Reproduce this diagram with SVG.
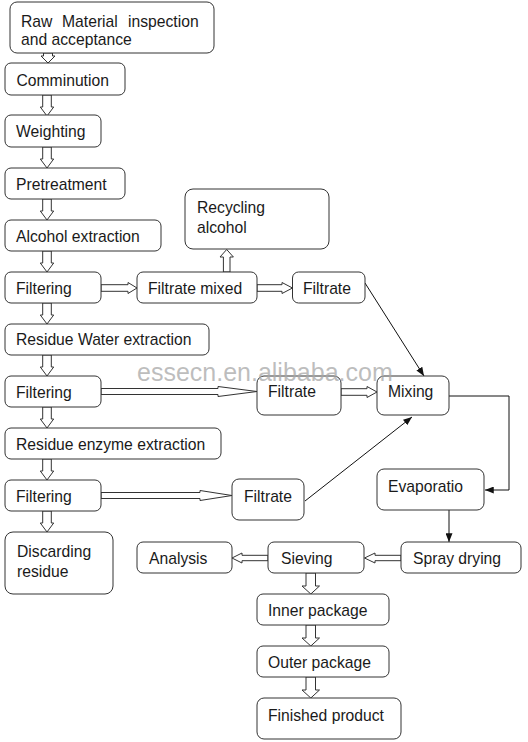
<svg xmlns="http://www.w3.org/2000/svg" width="528" height="742" viewBox="0 0 528 742">
<defs>
<style>
.box{fill:#fff;stroke:#333;stroke-width:1}
.t{font-family:"Liberation Sans",Arial,sans-serif;font-size:15.7px;fill:#1a1a1a}
.ha{fill:#fff;stroke:#333;stroke-width:1;stroke-linejoin:miter}
.ln{fill:none;stroke:#111;stroke-width:1}
.wm{font-family:"Liberation Sans",Arial,sans-serif;font-size:25px;fill:#a8a8a8;fill-opacity:0.75}
</style>
<marker id="ar" viewBox="0 0 10 8" refX="10" refY="4" markerWidth="9" markerHeight="7" markerUnits="userSpaceOnUse" orient="auto">
<path d="M0,0 L10,4 L0,8 Z" fill="#111"/>
</marker>
</defs>
<rect width="528" height="742" fill="#fff"/>

<g id="connectors">
<!-- main column hollow down arrows -->
<polygon class="ha" points="43.5,53 52.5,53 52.5,56 55,56 48,63 41,56 43.5,56"/>
<polygon class="ha" points="42.7,95 51.3,95 51.3,107 53.7,107 47,116 40.3,107 42.7,107"/>
<polygon class="ha" points="42.7,147 51.3,147 51.3,159 53.7,159 47,168 40.3,159 42.7,159"/>
<polygon class="ha" points="42.7,199 51.3,199 51.3,211 53.7,211 47,220 40.3,211 42.7,211"/>
<polygon class="ha" points="42.7,251 51.3,251 51.3,263 53.7,263 47,272 40.3,263 42.7,263"/>
<polygon class="ha" points="42.7,303 51.3,303 51.3,315 53.7,315 47,324 40.3,315 42.7,315"/>
<polygon class="ha" points="42.7,355 51.3,355 51.3,367 53.7,367 47,376 40.3,367 42.7,367"/>
<polygon class="ha" points="42.7,407 51.3,407 51.3,419 53.7,419 47,428 40.3,419 42.7,419"/>
<polygon class="ha" points="42.7,459 51.3,459 51.3,471 53.7,471 47,480 40.3,471 42.7,471"/>
<polygon class="ha" points="42.7,511 51.3,511 51.3,523 53.7,523 47,532 40.3,523 42.7,523"/>
<!-- horizontal hollow arrows -->
<polygon class="ha" points="101,284.7 128,284.7 128,282.5 137,288 128,293.5 128,291.3 101,291.3"/>
<polygon class="ha" points="257,284.7 282,284.7 282,282.5 292.5,288 282,293.5 282,291.3 257,291.3"/>
<polygon class="ha" points="101,388.5 218,388.5 218,386.5 257,391.5 218,396.5 218,394.5 101,394.5"/>
<polygon class="ha" points="341,388.7 367,388.7 367,386.5 377,392 367,397.5 367,395.3 341,395.3"/>
<polygon class="ha" points="101,492.5 200,492.5 200,490.5 232,495.5 200,500.5 200,498.5 101,498.5"/>
<!-- up arrow to recycling -->
<polygon class="ha" points="223.4,272 230,272 230,257 233.4,257 226.7,249.5 220,257 223.4,257"/>
<!-- left arrows -->
<polygon class="ha" points="401,555.3 375,555.3 375,553 364.5,558 375,563 375,560.7 401,560.7"/>
<polygon class="ha" points="268,555.3 242,555.3 242,553 232,558 242,563 242,560.7 268,560.7"/>
<!-- bottom down arrows -->
<polygon class="ha" points="306,573 315.5,573 315.5,586 319.5,586 310.8,594 302,586 306,586"/>
<polygon class="ha" points="306,625 315.5,625 315.5,638 319.5,638 310.8,646 302,638 306,638"/>
<polygon class="ha" points="306,677 315.5,677 315.5,690 319.5,690 310.8,698 302,690 306,690"/>
<!-- thin arrows -->
<line class="ln" x1="365" y1="283" x2="424" y2="376" marker-end="url(#ar)"/>
<line class="ln" x1="305" y1="501" x2="412" y2="417" marker-end="url(#ar)"/>
<polyline class="ln" points="449,396 509,396 509,490 485,490" marker-end="url(#ar)"/>
<line class="ln" x1="449" y1="510" x2="449" y2="542" marker-end="url(#ar)"/>
</g>

<g id="raw"><rect class="box" x="10" y="2" width="204" height="51" rx="7"/>
<text class="t" y="26.5"><tspan x="21">Raw</tspan><tspan x="62">Material</tspan><tspan x="128">inspection</tspan></text>
<text class="t" x="21" y="45">and acceptance</text></g>
<g id="comminution"><rect class="box" x="5" y="63" width="120" height="32" rx="6"/><text class="t" x="16.5" y="85.5">Comminution</text></g>
<g id="weighting"><rect class="box" x="5" y="115" width="96" height="32" rx="6"/><text class="t" x="16" y="137">Weighting</text></g>
<g id="pretreatment"><rect class="box" x="5" y="168" width="120" height="31" rx="6"/><text class="t" x="16" y="190">Pretreatment</text></g>
<g id="alcohol"><rect class="box" x="5" y="220" width="156" height="31" rx="6"/><text class="t" x="16" y="242">Alcohol extraction</text></g>
<g id="filtering1"><rect class="box" x="5" y="272" width="96" height="31" rx="6"/><text class="t" x="16" y="293.5">Filtering</text></g>
<g id="water"><rect class="box" x="5" y="324" width="204" height="31" rx="6"/><text class="t" x="16" y="345">Residue Water extraction</text></g>
<g id="filtering2"><rect class="box" x="5" y="376" width="96" height="31" rx="6"/><text class="t" x="16" y="397.5">Filtering</text></g>
<g id="enzyme"><rect class="box" x="5" y="428" width="216" height="31" rx="6"/><text class="t" x="16" y="449.5">Residue enzyme extraction</text></g>
<g id="filtering3"><rect class="box" x="5" y="480" width="96" height="31" rx="6"/><text class="t" x="16" y="501.5">Filtering</text></g>
<g id="discarding"><rect class="box" x="5" y="532" width="108" height="62" rx="8"/><text class="t" x="17" y="557" font-size="16">Discarding</text><text class="t" x="17" y="577" font-size="16">residue</text></g>
<g id="filtratemixed"><rect class="box" x="137" y="272" width="120" height="31" rx="6"/><text class="t" x="148" y="293.5">Filtrate mixed</text></g>
<g id="recycling"><rect class="box" x="185" y="189" width="144" height="60" rx="8"/><text class="t" x="197" y="213">Recycling</text><text class="t" x="197" y="233">alcohol</text></g>
<g id="filtrate1"><rect class="box" x="292.5" y="272" width="72.5" height="31" rx="6"/><text class="t" x="303" y="293.5">Filtrate</text></g>
<g id="filtrate2"><rect class="box" x="257" y="376" width="84" height="39" rx="7"/><text class="t" x="268" y="397">Filtrate</text></g>
<g id="mixing"><rect class="box" x="377" y="376" width="72" height="39" rx="7"/><text class="t" x="388" y="397">Mixing</text></g>
<g id="filtrate3"><rect class="box" x="232" y="479" width="72" height="41" rx="7"/><text class="t" x="244" y="502">Filtrate</text></g>
<g id="evaporatio"><rect class="box" x="377" y="469" width="107" height="41" rx="7"/><text class="t" x="388" y="492">Evaporatio</text></g>
<g id="spray"><rect class="box" x="401" y="542" width="120" height="31" rx="6"/><text class="t" x="413" y="564">Spray drying</text></g>
<g id="sieving"><rect class="box" x="268" y="542" width="96" height="31" rx="6"/><text class="t" x="281" y="564">Sieving</text></g>
<g id="analysis"><rect class="box" x="137" y="542" width="95" height="31" rx="6"/><text class="t" x="149" y="564">Analysis</text></g>
<g id="inner"><rect class="box" x="257" y="594" width="132" height="31" rx="6"/><text class="t" x="268" y="616">Inner package</text></g>
<g id="outer"><rect class="box" x="257" y="646" width="132" height="31" rx="6"/><text class="t" x="268" y="667.5">Outer package</text></g>
<g id="finished"><rect class="box" x="257" y="698" width="144" height="41" rx="7"/><text class="t" x="268" y="721">Finished product</text></g>

<text class="wm" x="137" y="381">essecn.en.alibaba.com</text>
</svg>
